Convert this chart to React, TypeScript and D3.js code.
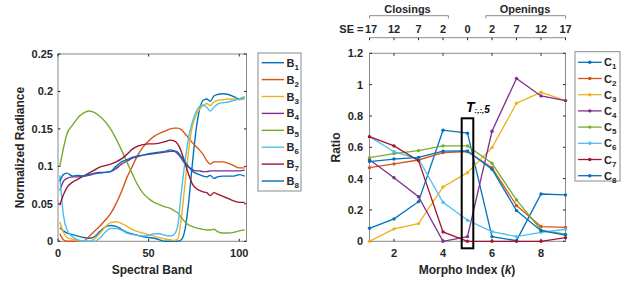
import React from "react";
import * as d3 from "d3";

const COLORS = ["#0072BD", "#D95319", "#EDB120", "#7E2F8E", "#77AC30", "#4DBEEE", "#A2142F", "#0072BD"];

const bands = [1,3,5,8,11,14,17,20,23,26,29,32,35,38,41,44,47,50,53,56,59,62,64,66,68,70,72,74,76,78,80,82,84,86,88,91,94,97,100,103];
const B1 = [0.018,0.014,0.011,0.009,0.007,0.005,0.004,0.006,0.013,0.019,0.021,0.02,0.016,0.012,0.01,0.008,0.006,0.005,0.004,0.002,0,0,0,0,0.002,0.015,0.05,0.1,0.145,0.175,0.188,0.19,0.187,0.194,0.196,0.197,0.196,0.193,0.19,0.192];
const B2 = [0.01,0.002,0,0,0,0,0.006,0.013,0.02,0.028,0.037,0.05,0.066,0.085,0.1,0.115,0.126,0.134,0.14,0.144,0.147,0.15,0.151,0.151,0.149,0.144,0.138,0.132,0.127,0.122,0.116,0.108,0.103,0.106,0.106,0.106,0.104,0.101,0.098,0.098];
const B3 = [0.026,0.012,0.005,0.003,0.001,0,0,0.003,0.01,0.019,0.025,0.026,0.024,0.02,0.016,0.013,0.011,0.009,0.007,0.005,0.003,0.002,0.001,0.003,0.03,0.075,0.12,0.152,0.168,0.176,0.181,0.184,0.181,0.186,0.188,0.189,0.19,0.19,0.189,0.19];
const B4 = [0.068,0.08,0.084,0.086,0.086,0.087,0.088,0.09,0.091,0.092,0.093,0.097,0.103,0.107,0.111,0.113,0.115,0.116,0.117,0.118,0.119,0.12,0.12,0.117,0.111,0.104,0.099,0.096,0.094,0.094,0.093,0.093,0.094,0.094,0.094,0.094,0.094,0.094,0.094,0.095];
const B5 = [0.1,0.124,0.144,0.155,0.165,0.171,0.174,0.172,0.167,0.16,0.15,0.137,0.122,0.106,0.09,0.075,0.064,0.057,0.052,0.049,0.046,0.044,0.041,0.038,0.032,0.026,0.022,0.02,0.018,0.017,0.016,0.015,0.015,0.016,0.013,0.011,0.011,0.012,0.014,0.015];
const B6 = [0.088,0.035,0.015,0.006,0.002,0,0,0,0.004,0.012,0.017,0.017,0.015,0.011,0.009,0.008,0.007,0.008,0.01,0.01,0.008,0.007,0.009,0.02,0.065,0.105,0.138,0.158,0.172,0.18,0.182,0.179,0.174,0.179,0.183,0.185,0.186,0.188,0.19,0.193];
const B7 = [0.048,0.062,0.072,0.079,0.083,0.087,0.091,0.095,0.099,0.101,0.103,0.106,0.11,0.116,0.123,0.127,0.129,0.13,0.13,0.131,0.133,0.135,0.134,0.13,0.12,0.105,0.09,0.077,0.071,0.068,0.066,0.065,0.061,0.065,0.063,0.06,0.057,0.054,0.052,0.052];
const B8 = [0.08,0.089,0.091,0.087,0.088,0.087,0.089,0.091,0.092,0.092,0.093,0.1,0.106,0.109,0.112,0.114,0.115,0.117,0.118,0.119,0.12,0.122,0.121,0.119,0.113,0.106,0.1,0.094,0.091,0.089,0.087,0.086,0.088,0.084,0.086,0.087,0.087,0.087,0.089,0.087];
const bSeries = [B1, B2, B3, B4, B5, B6, B7, B8];
const bNames = ["1", "2", "3", "4", "5", "6", "7", "8"];

const kIdx = [1,2,3,4,5,6,7,8,9];
const C1 = [0.083,0.143,0.253,0.709,0.69,0.03,0.004,0.302,0.296];
const C2 = [0.47,0.494,0.519,0.566,0.572,0.47,0.228,0.094,0.089];
const C3 = [0,0.079,0.113,0.347,0.438,0.598,0.881,0.951,0.898];
const C4 = [0.52,0.406,0.285,0,0.03,0.702,1.04,0.928,0.898];
const C5 = [0.534,0.56,0.579,0.609,0.609,0.498,0.264,0.072,0.045];
const C6 = [0.668,0.572,0.525,0.249,0.134,0.062,0.03,0.057,0.077];
const C7 = [0.668,0.609,0.515,0.06,0,0,0,0,0.023];
const C8 = [0.509,0.525,0.536,0.575,0.577,0.46,0.196,0.068,0.04];
const cSeries = [C1, C2, C3, C4, C5, C6, C7, C8];

const seLabels = ["17", "12", "7", "2", "0", "2", "7", "12", "17"];
const leftXTicks = [0, 50, 100];
const leftYTicks = [0, 0.05, 0.1, 0.15, 0.2, 0.25];
const rightXTicks = [2, 4, 6, 8];
const rightYTicks = [0, 0.2, 0.4, 0.6, 0.8, 1, 1.2];

const FONT = "'Liberation Sans', Arial, sans-serif";
const AX = "#262626";
const BOX = "#8a8a8a";

export default function App() {
  // left
  const lx = d3.scaleLinear().domain([0, 104]).range([58, 246.5]);
  const ly = d3.scaleLinear().domain([0, 0.25]).range([241.3, 54]);
  // right
  const rx = d3.scaleLinear().domain([1, 9]).range([369.5, 565.5]);
  const ry = d3.scaleLinear().domain([0, 1.2]).range([241.3, 53.3]);

  const lLine = d3.line<number>().x((_, i) => lx(bands[i])).y((d) => ly(d)).curve(d3.curveMonotoneX);
  const rLine = d3.line<number>().x((_, i) => rx(kIdx[i])).y((d) => ry(d));

  const tl = 2.5;
  const [lx0, lx1] = lx.range();
  const [ly0, ly1] = ly.range();
  const [rx0, rx1] = rx.range();
  const [ry0, ry1] = ry.range();

  const topAxisY = 37.7;

  return (
    <svg width={628} height={282} style={{ position: "absolute", left: 0, top: 0, background: "#fff" }} fontFamily={FONT}>
      <rect x={0} y={0} width={628} height={282} fill="#fff" />

      {/* LEFT CHART */}
      <rect x={lx0} y={ly1} width={lx1 - lx0} height={ly0 - ly1} fill="#fff" stroke={BOX} strokeWidth={1} />
      {leftXTicks.map((t) => (
        <g key={"lxt" + t}>
          <line x1={lx(t)} x2={lx(t)} y1={ly0} y2={ly0 - tl} stroke={AX} />
          <line x1={lx(t)} x2={lx(t)} y1={ly1} y2={ly1 + tl} stroke={AX} />
          <text x={lx(t)} y={257} textAnchor="middle" fontSize={11} fontWeight="bold" fill={AX}>{t}</text>
        </g>
      ))}
      {leftYTicks.map((t) => (
        <g key={"lyt" + t}>
          <line x1={lx0} x2={lx0 + tl} y1={ly(t)} y2={ly(t)} stroke={AX} />
          <line x1={lx1} x2={lx1 - tl} y1={ly(t)} y2={ly(t)} stroke={AX} />
          <text x={53} y={ly(t) + 4} textAnchor="end" fontSize={11} fontWeight="bold" fill={AX}>{String(t)}</text>
        </g>
      ))}
      {bSeries.map((s, i) => (
        <path key={"b" + i} d={lLine(s) || ""} fill="none" stroke={COLORS[i]} strokeWidth={1.4} />
      ))}
      <text x={152} y={274} textAnchor="middle" fontSize={12} fontWeight="bold" fill={AX}>Spectral Band</text>
      <text transform={`translate(24,147.5) rotate(-90)`} textAnchor="middle" fontSize={12} fontWeight="bold" fill={AX}>Normalized Radiance</text>

      {/* left legend */}
      <rect x={258} y={53} width={43} height={138} fill="#fff" stroke={BOX} strokeWidth={1} />
      {bNames.map((n, i) => {
        const y = 62.7 + i * 16.9;
        return (
          <g key={"lb" + i}>
            <line x1={261.7} x2={284} y1={y} y2={y} stroke={COLORS[i]} strokeWidth={1.4} />
            <text x={286.5} y={y + 4} fontSize={11} fontWeight="bold" fill={AX}>
              B<tspan fontSize={8} dy={3}>{n}</tspan>
            </text>
          </g>
        );
      })}

      {/* RIGHT CHART */}
      <rect x={rx0} y={ry1} width={rx1 - rx0} height={ry0 - ry1} fill="#fff" stroke={BOX} strokeWidth={1} />
      {rightXTicks.map((t) => (
        <g key={"rxt" + t}>
          <line x1={rx(t)} x2={rx(t)} y1={ry0} y2={ry0 - tl} stroke={AX} />
          <line x1={rx(t)} x2={rx(t)} y1={ry1} y2={ry1 + tl} stroke={AX} />
          <text x={rx(t)} y={257} textAnchor="middle" fontSize={11} fontWeight="bold" fill={AX}>{t}</text>
        </g>
      ))}
      {rightYTicks.map((t) => (
        <g key={"ryt" + t}>
          <line x1={rx0} x2={rx0 + tl} y1={ry(t)} y2={ry(t)} stroke={AX} />
          <line x1={rx1} x2={rx1 - tl} y1={ry(t)} y2={ry(t)} stroke={AX} />
          <text x={363} y={ry(t) + 4} textAnchor="end" fontSize={11} fontWeight="bold" fill={AX}>{String(t)}</text>
        </g>
      ))}
      {cSeries.map((s, i) => (
        <g key={"c" + i}>
          <path d={rLine(s) || ""} fill="none" stroke={COLORS[i]} strokeWidth={1.3} />
          {s.map((v, j) => (
            <circle key={j} cx={rx(kIdx[j])} cy={ry(v)} r={1.7} fill={COLORS[i]} />
          ))}
        </g>
      ))}
      {/* T box */}
      <rect x={rx(5) - 5.8} y={118.3} width={11.6} height={130} fill="none" stroke="#000" strokeWidth={2} />
      <text x={466} y={112} fontSize={14} fontWeight="bold" fontStyle="italic" fill="#000">
        T<tspan fontSize={8} dy={1}>:,:,</tspan><tspan fontSize={10} dy={0}>5</tspan>
      </text>

      <text x={467} y={274} textAnchor="middle" fontSize={12} fontWeight="bold" fill={AX}>
        Morpho Index (<tspan fontStyle="italic">k</tspan>)
      </text>
      <text transform={`translate(340,147.5) rotate(-90)`} textAnchor="middle" fontSize={12} fontWeight="bold" fill={AX}>Ratio</text>

      {/* top SE axis */}
      <line x1={rx0} x2={rx1} y1={topAxisY} y2={topAxisY} stroke={BOX} strokeWidth={1} />
      {kIdx.map((k, i) => (
        <g key={"se" + k}>
          <line x1={rx(k)} x2={rx(k)} y1={topAxisY} y2={topAxisY + 2.5} stroke={AX} />
          <text x={rx(k) + (i === 0 ? 1.5 : 0)} y={32.5} textAnchor="middle" fontSize={11} fontWeight="bold" fill={AX}>{seLabels[i]}</text>
        </g>
      ))}
      <text x={363.5} y={32.5} textAnchor="end" fontSize={11} fontWeight="bold" fill={AX}>SE =</text>

      {/* brackets */}
      <path d={`M${rx(1)},18.5 V15.7 H${rx(4.22)} V18.5`} fill="none" stroke={BOX} strokeWidth={1} />
      <path d={`M${rx(5.75)},18.5 V15.7 H${rx(9)} V18.5`} fill="none" stroke={BOX} strokeWidth={1} />
      <text x={407.5} y={13} textAnchor="middle" fontSize={11} fontWeight="bold" fill={AX}>Closings</text>
      <text x={525} y={13} textAnchor="middle" fontSize={11} fontWeight="bold" fill={AX}>Openings</text>

      {/* right legend */}
      <rect x={575} y={51.7} width={45} height={129.3} fill="#fff" stroke={BOX} strokeWidth={1} />
      {bNames.map((n, i) => {
        const y = 62.3 + i * 16.2;
        return (
          <g key={"lc" + i}>
            <line x1={578} x2={601.7} y1={y} y2={y} stroke={COLORS[i]} strokeWidth={1.3} />
            <circle cx={589.8} cy={y} r={1.7} fill={COLORS[i]} />
            <text x={604} y={y + 4} fontSize={11} fontWeight="bold" fill={AX}>
              C<tspan fontSize={8} dy={3}>{n}</tspan>
            </text>
          </g>
        );
      })}
    </svg>
  );
}
